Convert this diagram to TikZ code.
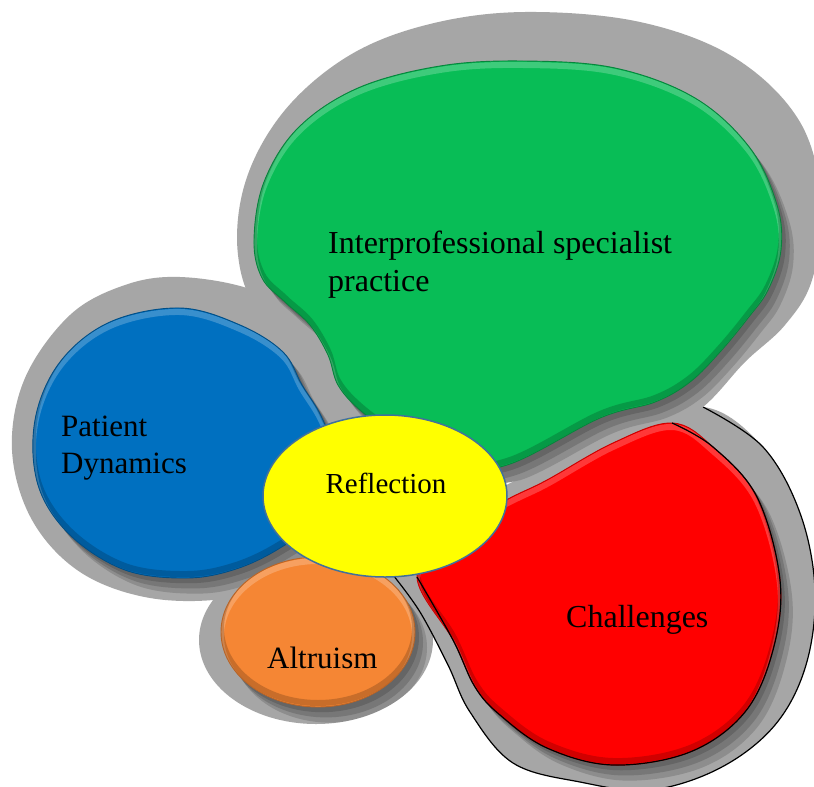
\documentclass[tikz,border=0pt]{standalone}
\usepackage{fontspec}
\setmainfont{Liberation Serif}
\usetikzlibrary{shapes.geometric}
\definecolor{ggreen}{RGB}{8,189,86}
\definecolor{bblue}{RGB}{0,112,192}
\definecolor{oorange}{RGB}{245,134,52}
\definecolor{rred}{RGB}{255,0,0}
\definecolor{yyellow}{RGB}{255,255,0}
\definecolor{yedge}{RGB}{65,113,156}
\definecolor{ringgray}{RGB}{166,166,166}
\def\Gpath{plot[smooth cycle, tension=0.6] coordinates {(523,61) (615,68) (695,98) (750,148) (777,205) (781,250) (768,290) (748,318) (720,352) (690,382) (655,402) (600,418) (507,465) (440,468) (400,440) (360,410) (338,385) (328,355) (310,325) (285,302) (262,278) (254,240) (264,182) (298,128) (358,88) (440,66)}}
\def\GOpath{plot[smooth cycle, tension=0.6] coordinates {(525,12) (640,22) (735,58) (800,122) (822,205) (812,280) (785,325) (745,362) (703,407) (650,440) (560,470) (480,485) (400,470) (330,400) (262,320) (238,255) (246,180) (285,110) (350,55) (430,24)}}
\def\Bpath{plot[smooth cycle, tension=0.6] coordinates {(180,308) (240,325) (283,352) (302,385) (322,418) (335,460) (315,520) (280,548) (236,569) (187,578) (125,570) (70,535) (38,485) (35,420) (60,362) (110,322)}}
\def\BOpath{plot[smooth cycle, tension=0.6] coordinates {(180,277) (250,289) (300,318) (335,360) (352,430) (345,510) (300,575) (230,598) (150,598) (80,572) (32,520) (12,450) (25,378) (70,315) (125,285)}}
\def\Opath{(318,632) ellipse [x radius=97, y radius=75]}
\def\OOpath{(316,640) ellipse [x radius=117, y radius=84]}
\def\ROpath{plot[smooth cycle, tension=0.6] coordinates {(703,407) (763,447) (800,513) (815,590) (806,665) (775,725) (720,768) (650,790) (580,782) (513,763) (470,712) (448,665) (420,612) (393,575) (430,530) (520,478) (620,432)}}
\def\ROline{plot[smooth, tension=0.6] coordinates {(703,407) (763,447) (800,513) (815,590) (806,665) (775,725) (720,768) (650,790) (580,782) (513,763) (470,712) (448,665) (420,612) (393,575)}}
\def\Rpath{plot[smooth cycle, tension=0.6] coordinates {(672,423) (713,447) (757,497) (780,580) (773,650) (745,712) (690,752) (613,765) (547,748) (500,715) (475,687) (453,640) (417,577) (450,530) (510,498) (547,480) (613,443)}}
\def\Rline{plot[smooth, tension=0.6] coordinates {(672,423) (713,447) (757,497) (780,580) (773,650) (745,712) (690,752) (613,765) (547,748) (500,715) (475,687) (453,640) (417,577)}}
\tikzset{
  lbl/.style={inner sep=0pt, text=black},
  ring/.style={fill=ringgray},
}
\newcommand{\shadowin}[2]{%
  \begin{scope}
    \clip #1;
    \foreach \s in {4,8,12} {\fill[black, opacity=0.15, shift={(\s,1.3*\s)}] #2;}
  \end{scope}}
\newcommand{\bodyfill}[3]{%
  \begin{scope}
    \clip #1;
    \fill[#2] #1;
    \draw[line width=6pt, white, opacity=0.22, shift={(0,4)}] #1;
    \draw[line width=6pt, black, opacity=0.18, shift={(0,-4)}] #1;
  \end{scope}
  \draw[#3, line width=0.9pt] #1;}
\begin{document}
\begin{tikzpicture}[x=1pt, y=-1pt]
\useasboundingbox[fill=white] (0,0) rectangle (814,787);
% outer grey rings
\fill[ring] \OOpath;
\fill[ring] \ROpath;
\draw[black, line width=1.2pt] \ROline;
\fill[ring] \BOpath;
\fill[ring] \GOpath;
% soft shadows
\shadowin{\OOpath}{\Opath}
\shadowin{\ROpath}{\Rpath}
\shadowin{\BOpath}{\Bpath}
\shadowin{\GOpath}{\Gpath}
% bodies
\bodyfill{\Gpath}{ggreen}{ggreen!70!black}
\bodyfill{\Bpath}{bblue}{bblue!70!black}
\bodyfill{\Opath}{oorange}{oorange!75!black}
\bodyfill{\Rpath}{rred}{rred!80!black}
\draw[black, line width=1.2pt] \Rline;
% centre
\node[ellipse, draw=yedge, line width=1.5pt, fill=yyellow, minimum width=244pt, minimum height=162pt, inner sep=0pt] (reflbox) at (385,496) {};
% labels
\node[lbl, anchor=north west, align=left, font=\fontsize{32}{38}\selectfont] (ips) at (328,231) {Interprofessional specialist\\practice};
\node[lbl, anchor=north west, align=left, font=\fontsize{31}{37}\selectfont] (pd) at (61,416) {Patient\\Dynamics};
\node[lbl, anchor=base, font=\fontsize{29}{35}\selectfont] (refl) at (386,493) {Reflection};
\node[lbl, anchor=base west, font=\fontsize{31}{37}\selectfont] (alt) at (267,668) {Altruism};
\node[lbl, anchor=base west, font=\fontsize{32}{38}\selectfont] (chal) at (566,627) {Challenges};
\end{tikzpicture}
\end{document}
